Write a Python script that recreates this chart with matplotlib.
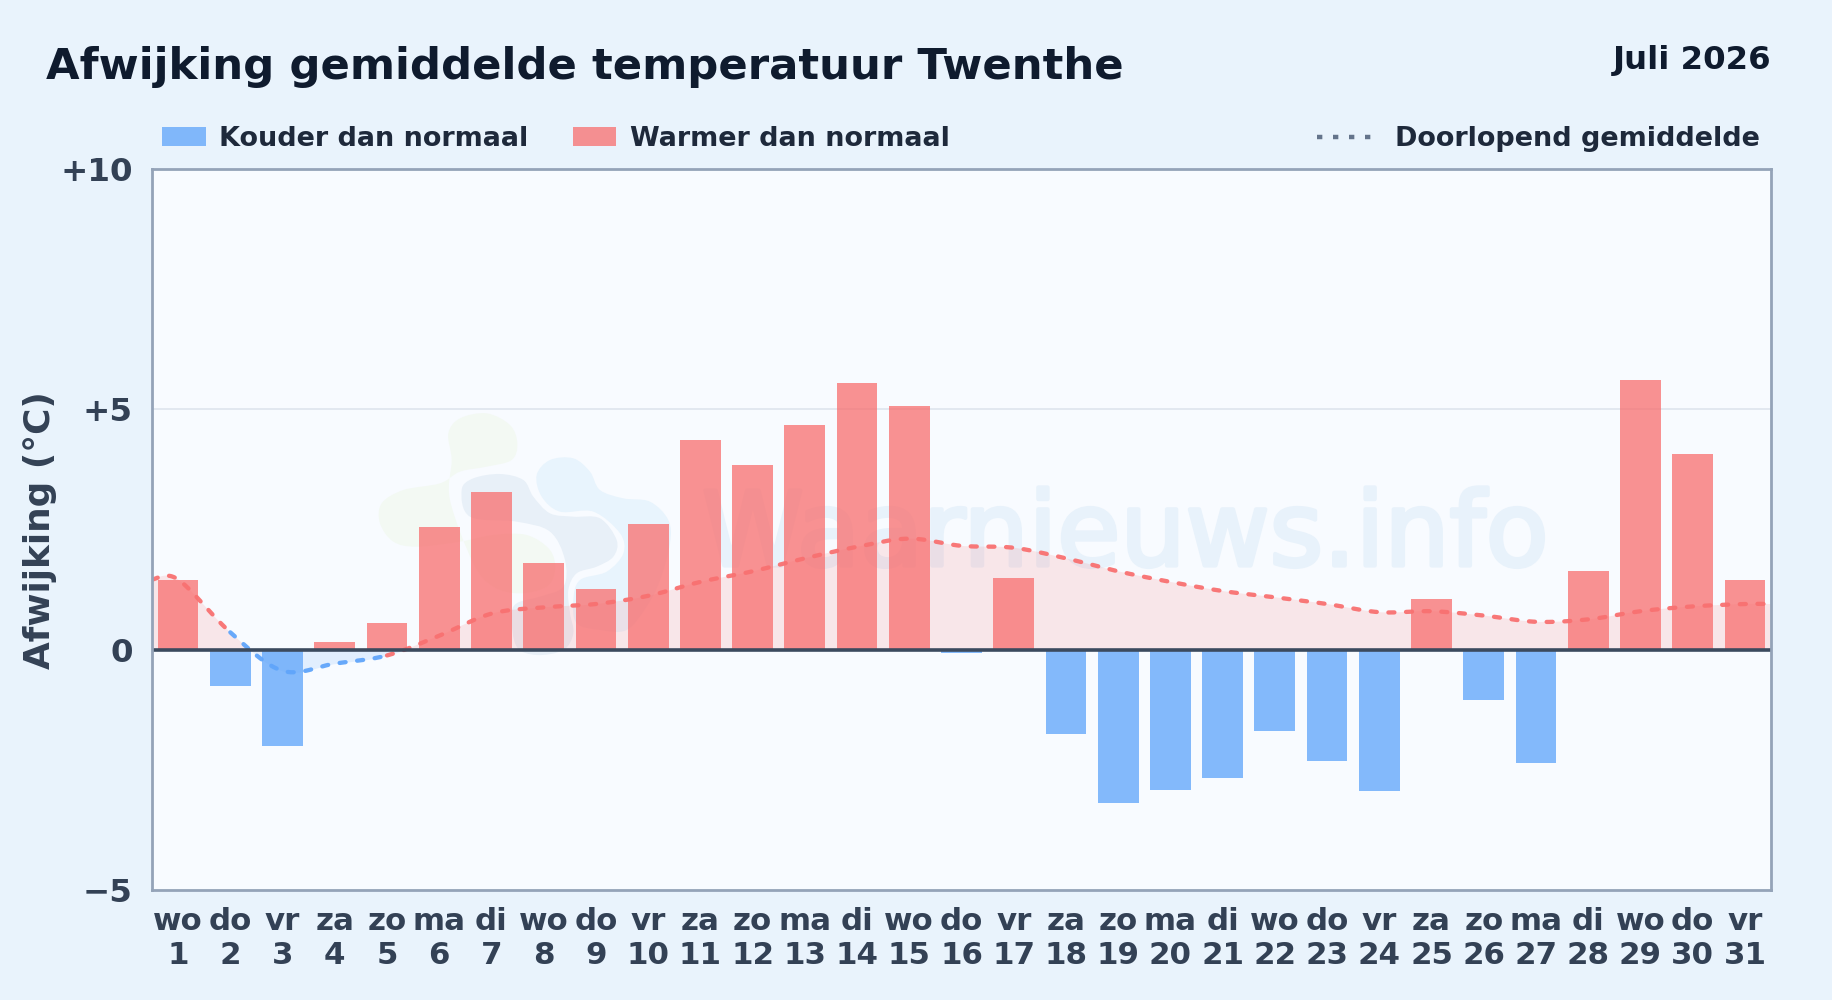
import matplotlib
matplotlib.use("Agg")
import matplotlib.pyplot as plt
import matplotlib.patheffects as pe
import numpy as np
from matplotlib.patches import Rectangle, PathPatch
from matplotlib.path import Path

dagen = ["wo", "do", "vr", "za", "zo", "ma", "di", "wo", "do", "vr", "za", "zo", "ma", "di", "wo", "do",
         "vr", "za", "zo", "ma", "di", "wo", "do", "vr", "za", "zo", "ma", "di", "wo", "do", "vr"]
datums = list(range(1, 32))
afwijking = [1.44, -0.75, -2.0, 0.15, 0.56, 2.56, 3.29, 1.80, 1.27, 2.61, 4.36, 3.85, 4.67, 5.55, 5.06, -0.07,
             1.50, -1.76, -3.2, -2.92, -2.68, -1.70, -2.31, -2.94, 1.05, -1.04, -2.36, 1.63, 5.60, 4.07, 1.44]
gemiddelde = [1.46, 0.36, -0.44, -0.29, -0.12, 0.29, 0.75, 0.88, 0.95, 1.12, 1.41, 1.63, 1.90, 2.14, 2.31, 2.16,
              2.12, 1.90, 1.63, 1.41, 1.22, 1.09, 0.95, 0.78, 0.80, 0.71, 0.58, 0.63, 0.80, 0.90, 0.95]
y_ticks = [-5, 0, 5, 10]
y_labels = ["\u22125", "0", "+5", "+10"]

ROOD = "#f87171"
BLAUW = "#60a5fa"
BG = "#e9f3fc"
PANEL = "#f8fbff"
W, H = 1832, 1000


def fx(x):
    return x / W


def fy(y):
    return 1 - y / H


def smooth(xs, ys, n=24):
    # catmull-rom, alleen om de lijn vloeiend te tekenen
    xs = np.array(xs, dtype=float)
    ys = np.array(ys, dtype=float)
    px = np.r_[xs[0], xs, xs[-1]]
    py = np.r_[ys[0], ys, ys[-1]]
    out_x, out_y = [], []
    t = np.linspace(0, 1, n, endpoint=False)
    for i in range(1, len(px) - 2):
        for p, out in ((px, out_x), (py, out_y)):
            a, b, c, d = p[i - 1], p[i], p[i + 1], p[i + 2]
            out.append(0.5 * (2 * b + (c - a) * t + (2 * a - 5 * b + 4 * c - d) * t ** 2
                              + (3 * b - a - 3 * c + d) * t ** 3))
    return np.r_[np.concatenate(out_x), xs[-1]], np.r_[np.concatenate(out_y), ys[-1]]


def blob(punten, kleur):
    # gesloten vloeiende vorm voor het logo, punten relatief aan het logo-vak (3x)
    p = np.array(punten, dtype=float) / 3 + [360, 400]
    n = len(p)
    verts = [p[0]]
    codes = [Path.MOVETO]
    for i in range(n):
        a, b, c, d = p[i - 1], p[i], p[(i + 1) % n], p[(i + 2) % n]
        verts += [b + (c - a) / 6, c - (d - b) / 6, c]
        codes += [Path.CURVE4] * 3
    verts = [(fx(v[0]), fy(v[1])) for v in verts]
    fig.add_artist(PathPatch(Path(verts, codes), facecolor=kleur, edgecolor="none", zorder=-3,
                             transform=fig.transFigure))


fig = plt.figure(figsize=(W / 100, H / 100), dpi=100, facecolor=BG)
ax = fig.add_axes([fx(152), fy(890), (1771 - 152) / W, (890 - 169) / H], facecolor="none")
fig.add_artist(Rectangle((fx(152), fy(890)), (1771 - 152) / W, (890 - 169) / H, facecolor=PANEL,
                         edgecolor="none", zorder=-4, transform=fig.transFigure))

# logo en watermerk
blob([(265, 100), (300, 55), (380, 40), (450, 75), (472, 130), (455, 180), (380, 200), (300, 215), (240, 250),
      (130, 270), (65, 310), (60, 370), (100, 425), (170, 440), (300, 425), (400, 405), (500, 405), (570, 450),
      (585, 510), (560, 560), (480, 580), (400, 560), (340, 490), (270, 300), (275, 180)], "#f3f9f3")
blob([(305, 270), (340, 235), (420, 222), (490, 240), (520, 290), (570, 340), (640, 350), (720, 355), (770, 420),
      (760, 470), (710, 500), (650, 520), (625, 570), (630, 640), (640, 700), (610, 750), (530, 765), (470, 740),
      (455, 650), (470, 610), (540, 590), (610, 560), (615, 480), (570, 395), (470, 365), (330, 350)], "#e8f0f8")
blob([(530, 225), (570, 180), (640, 175), (690, 215), (720, 270), (790, 295), (870, 305), (925, 360), (930, 430),
      (900, 540), (860, 620), (800, 690), (720, 690), (650, 670), (640, 600), (660, 540), (740, 515), (790, 460),
      (780, 400), (700, 335), (600, 335), (545, 290)], "#e8f4fd")
fig.text(fx(702), fy(537), "Waarnieuws.info", fontsize=74, color="#e8f2fb", ha="left", va="center", zorder=-2,
         path_effects=[pe.withStroke(linewidth=3, foreground="#e8f2fb")])

ax.axhline(5, color="#e2e8f0", lw=1.4, zorder=1)

x_lijn = [0.5] + datums + [31.5]
y_lijn = [gemiddelde[0]] + gemiddelde + [gemiddelde[-1]]
sx, sy = smooth(x_lijn, y_lijn)
ax.fill_between(sx, 0, sy, where=sy >= 0, color=ROOD, alpha=0.15, lw=0, zorder=2, interpolate=True)
ax.fill_between(sx, 0, sy, where=sy <= 0, color=BLAUW, alpha=0.15, lw=0, zorder=2, interpolate=True)

kleuren = [ROOD if v >= 0 else BLAUW for v in afwijking]
ax.bar(datums, afwijking, width=0.78, color=kleuren, alpha=0.77, zorder=3)

# kleur per stuk lijn volgt het teken van de dag waar het stuk eindigt
eind = np.array(y_lijn)[np.searchsorted(x_lijn, sx, side="left")]
blauw = eind < 0
blauw[:-1] |= blauw[1:]
rood = eind >= 0
rood[:-1] |= rood[1:]
for masker, kleur in ((rood, ROOD), (blauw, BLAUW)):
    ax.plot(sx, np.where(masker, sy, np.nan), color=kleur, lw=3.1, alpha=0.95, zorder=4,
            dashes=(1.4, 2.7), dash_capstyle="round")

ax.axhline(0, color="#3b4a5e", lw=2.6, zorder=5)

ax.set_xlim(0.5, 31.5)
ax.set_ylim(-5, 10)
ax.set_yticks(y_ticks, y_labels)
ax.set_xticks(datums, [f"{d}\n{n}" for d, n in zip(dagen, datums)])
ax.tick_params(axis="both", length=0, labelcolor="#334155")
ax.tick_params(axis="x", pad=12.5, labelsize=22.2)
ax.tick_params(axis="y", pad=14, labelsize=23.4)
for t in ax.get_xticklabels() + ax.get_yticklabels():
    t.set_fontweight("bold")
for t in ax.get_xticklabels():
    t.set_linespacing(1.2)
for s in ax.spines.values():
    s.set_color("#94a3b8")
    s.set_linewidth(2)
    s.set_zorder(6)

fig.text(fx(40), fy(530), "Afwijking (\u00b0C)", rotation=90, fontsize=25.8, fontweight="bold", color="#334155",
         ha="center", va="center")
fig.text(fx(46), fy(67), "Afwijking gemiddelde temperatuur Twenthe", fontsize=31.2, fontweight="bold",
         color="#0f1b2e", ha="left", va="center")
fig.text(fx(1771), fy(61), "Juli 2026", fontsize=23.3, fontweight="bold", color="#0f1b2e", ha="right", va="center")

# legenda
for x0, x1, kleur in ((162, 206, BLAUW), (573, 616, ROOD)):
    fig.add_artist(Rectangle((fx(x0), fy(146)), (x1 - x0) / W, 19 / H, facecolor=kleur, alpha=0.77, edgecolor="none",
                             transform=fig.transFigure))
for x, tekst in ((219, "Kouder dan normaal"), (630, "Warmer dan normaal"), (1395, "Doorlopend gemiddelde")):
    fig.text(fx(x), fy(139), tekst, fontsize=19.46, fontweight="bold", color="#1e293b", ha="left", va="center")
fig.add_artist(plt.Line2D([fx(1317), fx(1373)], [fy(137), fy(137)], color="#64748b", lw=3.2, dashes=(1.2, 2.4),
                          transform=fig.transFigure))

fig.savefig("out.png", dpi=100, facecolor=BG)
